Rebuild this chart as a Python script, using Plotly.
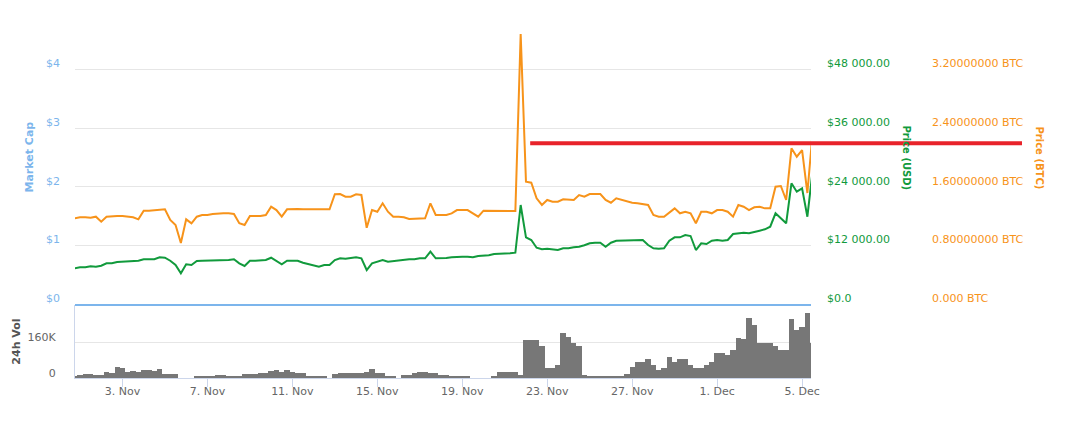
import pandas as pd
import plotly.graph_objects as go

# ---------------- data ----------------
START = "2017-10-31 18:00"
STEP = "6h"

price_btc = [
    1.170, 1.184, 1.184, 1.178, 1.192, 1.124, 1.192, 1.201, 1.201, 1.201,
    1.192, 1.184, 1.156, 1.274, 1.274, 1.283, 1.293, 1.293, 1.147, 1.078,
    0.833, 1.156, 1.102, 1.192, 1.215, 1.215, 1.229, 1.238, 1.238, 1.238,
    1.229, 1.102, 1.078, 1.201, 1.201, 1.201, 1.215, 1.328, 1.283, 1.192,
    1.293, 1.297, 1.297, 1.293, 1.293, 1.293, 1.293, 1.297, 1.293, 1.498,
    1.502, 1.465, 1.465, 1.498, 1.488, 1.040, 1.283, 1.260, 1.375, 1.260,
    1.192, 1.192, 1.184, 1.160, 1.160, 1.170, 1.170, 1.375, 1.215, 1.215,
    1.215, 1.238, 1.283, 1.283, 1.283, 1.238, 1.192, 1.274, 1.274, 1.270,
    1.270, 1.270, 1.270, 1.270, 3.686, 1.670, 1.656, 1.443, 1.352, 1.420,
    1.397, 1.397, 1.429, 1.429, 1.420, 1.488, 1.465, 1.502, 1.502, 1.502,
    1.420, 1.383, 1.443, 1.420, 1.397, 1.383, 1.375, 1.361, 1.352, 1.215,
    1.192, 1.192, 1.246, 1.306, 1.238, 1.260, 1.238, 1.102, 1.260, 1.260,
    1.238, 1.283, 1.283, 1.260, 1.192, 1.352, 1.328, 1.283, 1.320, 1.328,
    1.306, 1.306, 1.601, 1.611, 1.420, 2.126, 2.011, 2.102, 1.515, 2.352,
]

price_usd = [
    7311, 7515, 7515, 7720, 7638, 7843, 8335, 8335, 8601, 8662,
    8662, 8867, 8867, 9154, 9154, 9154, 9563, 9481, 8867, 7986,
    6287, 8130, 7986, 8806, 8867, 8867, 9010, 9010, 9010, 9010,
    9154, 8335, 7782, 8867, 8867, 8867, 9010, 9481, 8867, 8130,
    8867, 8867, 8867, 8457, 8191, 7986, 7638, 7986, 7986, 9010,
    9358, 9276, 9358, 9563, 9358, 6963, 8335, 8662, 9010, 8662,
    8806, 8867, 9010, 9154, 9154, 9358, 9358, 10710, 9358, 9358,
    9420, 9563, 9686, 9686, 9686, 9563, 9829, 9829, 9973, 10239,
    10239, 10382, 10382, 10505, 20273, 13659, 13106, 11529, 11202, 11324,
    11202, 11058, 11406, 11406, 11611, 11734, 12020, 12430, 12553, 12553,
    11734, 12553, 12963, 12963, 13106, 13106, 13106, 13106, 12082, 11406,
    11324, 11406, 12963, 13659, 13659, 14130, 13925, 11058, 12430, 12287,
    12963, 13106, 12963, 13106, 14335, 14478, 14601, 14478, 14806, 15010,
    15297, 15830, 18574, 17550, 16526, 24717, 22997, 23693, 17877, 27441,
]

volume = [
    7500, 12000, 16600, 15000, 12000, 12000, 27000, 22600, 46700, 42000,
    27000, 31600, 25600, 34700, 34700, 31600, 39000, 16600, 16600, 16600,
    0, 0, 0, 6000, 6000, 7500, 7500, 10500, 10500, 4500,
    4500, 7500, 16600, 16600, 16600, 22600, 22600, 31600, 34700, 27000,
    34700, 27000, 19600, 19600, 7500, 7500, 4500, 4500, 0, 16600,
    19600, 19600, 19600, 19600, 19600, 27000, 37700, 19600, 22600, 7500,
    7500, 0, 12000, 12000, 22600, 27000, 27000, 19600, 19600, 12000,
    12000, 7500, 4500, 4500, 4500, 0, 0, 0, 0, 7500,
    27000, 27000, 27000, 27000, 12000, 167000, 167000, 170000, 140000, 42000,
    42000, 57000, 200000, 181000, 155000, 140000, 12000, 4500, 4500, 4500,
    4500, 4500, 4500, 7500, 16600, 50000, 72000, 72000, 83000, 57000,
    35000, 42000, 92000, 72000, 83000, 83000, 57000, 42000, 42000, 57000,
    72000, 110000, 110000, 102000, 125000, 178000, 173000, 268000, 238000, 155000,
    155000, 155000, 143000, 125000, 125000, 261000, 216000, 226000, 291000, 155000,
]

times = pd.date_range(START, periods=len(price_btc), freq=STEP)

mcap_ticks = [0, 1, 2, 3, 4, 5]
mcap_labels = ["$0", "$1", "$2", "$3", "$4", ""]
usd_ticks = [0, 12000, 24000, 36000, 48000]
usd_labels = ["$0.0", "$12 000.00", "$24 000.00", "$36 000.00", "$48 000.00"]
btc_ticks = [0, 0.8, 1.6, 2.4, 3.2]
btc_labels = ["0.000 BTC", "0.80000000 BTC", "1.60000000 BTC",
              "2.40000000 BTC", "3.20000000 BTC"]
vol_ticks = [0, 160000]
vol_labels = ["0", "160K"]

REF_LEVEL_BTC = 2.194
REF_START = "2017-11-22 04:45"

# ---------------- styling ----------------
GREEN = "#119a3c"
ORANGE = "#f7931a"
BLUE = "#7cb5ec"
FONT = "DejaVu Sans"

X_MIN = pd.Timestamp("2017-10-31 18:22")
X_MAX = pd.Timestamp("2017-12-05 10:05")
XD = 0.7572
MAIN_DOMAIN = [0.2016, 1.0]
VOL_DOMAIN = [0.0, 0.198]
PW = 972  # paper width in px


def paper_x(t):
    return XD * (pd.Timestamp(t) - X_MIN) / (X_MAX - X_MIN)


fig = go.Figure()
# empty series on the Market Cap axis so that the main subplot exists
fig.add_trace(go.Scatter(x=[], y=[], xaxis="x", yaxis="y", mode="lines",
                         name="Market Cap", hoverinfo="skip"))
fig.add_trace(go.Scatter(x=times, y=price_usd, xaxis="x", yaxis="y2",
                         mode="lines", line=dict(color=GREEN, width=2),
                         name="Price (USD)"))
fig.add_trace(go.Scatter(x=times, y=price_btc, xaxis="x", yaxis="y3",
                         mode="lines", line=dict(color=ORANGE, width=2),
                         name="Price (BTC)"))
fig.add_trace(go.Bar(x=times, y=volume, xaxis="x2", yaxis="y4",
                     marker=dict(color="#777777", line=dict(width=0)),
                     width=6 * 3600 * 1000, name="24h Vol"))

fig.update_layout(
    width=1059, height=416,
    margin=dict(l=67, r=20, t=3, b=46),
    paper_bgcolor="white", plot_bgcolor="white",
    showlegend=False, bargap=0,
    font=dict(family=FONT, size=11, color="#666666"),
    xaxis=dict(domain=[0, XD], range=[X_MIN, X_MAX], anchor="y",
               showticklabels=False, ticks="", showgrid=False, zeroline=False,
               showline=True, linecolor=BLUE, linewidth=1.5),
    xaxis2=dict(domain=[0, XD], range=[X_MIN, X_MAX], anchor="y4", matches="x",
                showgrid=False, zeroline=False, showline=True,
                linecolor="#ccd6eb", linewidth=1, ticks="outside", ticklen=8,
                tickcolor="#ccd6eb", tick0="2017-11-03",
                dtick=4 * 86400000, tickformat="%-d. %b",
                ticklabelstandoff=-5,
                tickfont=dict(family=FONT, size=11, color="#666666")),
    yaxis=dict(domain=MAIN_DOMAIN, range=[0, 5], anchor="x",
               tickvals=mcap_ticks, ticktext=mcap_labels,
               showgrid=True, gridcolor="#e6e6e6", zeroline=False,
               ticks="", ticklabelshift=-6, ticklabelstandoff=14,
               tickfont=dict(family=FONT, size=11, color=BLUE)),
    yaxis2=dict(overlaying="y", side="right", anchor="x", range=[0, 60000],
                tickvals=usd_ticks, ticktext=usd_labels, showgrid=False,
                zeroline=False, ticks="", ticklabelshift=-6,
                ticklabelstandoff=15,
                tickfont=dict(family=FONT, size=11, color=GREEN)),
    yaxis3=dict(overlaying="y", side="right", anchor="free",
                position=(920 - 75) / PW, range=[0, 4],
                tickvals=btc_ticks, ticktext=btc_labels, showgrid=False,
                zeroline=False, ticks="", ticklabelshift=-6,
                ticklabelstandoff=11,
                tickfont=dict(family=FONT, size=11, color=ORANGE)),
    yaxis4=dict(domain=VOL_DOMAIN, anchor="x2", range=[0, 326000],
                tickvals=vol_ticks, ticktext=vol_labels,
                showgrid=True, gridcolor="#e6e6e6", zeroline=False,
                showline=True, linecolor="#ccd6eb", ticks="",
                ticklabelshift=-5, ticklabelstandoff=16,
                tickfont=dict(family=FONT, size=11, color="#666666")),
)

fig.add_shape(type="line", xref="paper", yref="y3",
              x0=paper_x(REF_START), x1=(1022 - 75) / PW,
              y0=REF_LEVEL_BTC, y1=REF_LEVEL_BTC,
              line=dict(color="#e8232a", width=4))

main_mid = (MAIN_DOMAIN[0] + MAIN_DOMAIN[1]) / 2
fig.add_annotation(text="<b>Market Cap</b>", xref="paper", yref="paper",
                   x=(30 - 75) / PW, y=main_mid, showarrow=False,
                   textangle=-90, xanchor="center", yanchor="middle",
                   font=dict(family=FONT, size=11, color=BLUE))
fig.add_annotation(text="<b>24h Vol</b>", xref="paper", yref="paper",
                   x=(17 - 75) / PW, y=(VOL_DOMAIN[0] + VOL_DOMAIN[1]) / 2,
                   showarrow=False, textangle=-90,
                   xanchor="center", yanchor="middle",
                   font=dict(family=FONT, size=11, color="#555555"))
fig.add_annotation(text="<b>Price (USD)</b>", xref="paper", yref="paper",
                   x=(906 - 75) / PW, y=main_mid, showarrow=False,
                   textangle=90, xanchor="center", yanchor="middle",
                   font=dict(family=FONT, size=10, color=GREEN))
fig.add_annotation(text="<b>Price (BTC)</b>", xref="paper", yref="paper",
                   x=(1039 - 75) / PW, y=main_mid, showarrow=False,
                   textangle=90, xanchor="center", yanchor="middle",
                   font=dict(family=FONT, size=10, color=ORANGE))

fig.write_html("out.html")
